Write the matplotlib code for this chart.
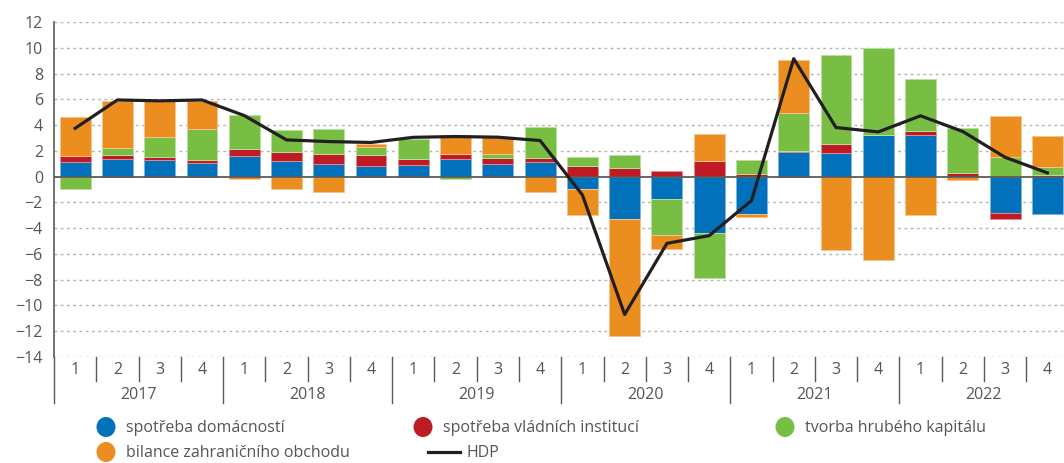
import matplotlib
matplotlib.use("Agg")
import matplotlib.pyplot as plt
import numpy as np
from matplotlib.lines import Line2D
from matplotlib.patches import Ellipse
import matplotlib.transforms as mtransforms

plt.rcParams['font.family'] = ['Open Sans', 'DejaVu Sans']

years = ["2017", "2018", "2019", "2020", "2021", "2022"]
quarters = ["1", "2", "3", "4"]

households = [1.15, 1.40, 1.30, 1.05,
              1.58, 1.25, 1.00, 0.85,
              0.93, 1.35, 1.00, 1.12,
              -0.96, -3.30, -1.73, -4.37,
              -2.90, 1.92, 1.87, 3.26,
              3.21, 0.00, -2.84, -2.90]
government = [0.45, 0.30, 0.25, 0.25,
              0.57, 0.65, 0.78, 0.80,
              0.45, 0.44, 0.47, 0.36,
              0.82, 0.70, 0.44, 1.24,
              0.23, 0.10, 0.69, 0.00,
              0.36, 0.31, -0.46, 0.16]
capital = [-0.98, 0.50, 1.50, 2.38,
           2.65, 1.73, 1.95, 0.67,
           1.55, -0.15, 0.26, 2.40,
           0.71, 0.96, -2.77, -3.48,
           1.07, 2.91, 6.90, 6.69,
           4.04, 3.50, 1.51, 0.57]
trade = [3.00, 3.63, 2.78, 2.15,
         -0.20, -0.93, -1.17, 0.20,
         0.00, 1.42, 1.37, -1.17,
         -2.00, -9.08, -1.10, 2.05,
         -0.20, 4.14, -5.70, -6.50,
         -2.97, -0.30, 3.20, 2.41]
gdp = [3.75, 5.95, 5.88, 5.95,
       4.74, 2.85, 2.72, 2.65,
       3.05, 3.11, 3.06, 2.80,
       -1.42, -10.70, -5.18, -4.58,
       -1.86, 9.15, 3.81, 3.47,
       4.72, 3.50, 1.50, 0.29]

series_names = ["spotřeba domácností", "spotřeba vládních institucí",
                "tvorba hrubého kapitálu", "bilance zahraničního obchodu"]
series_vals = [households, government, capital, trade]
colors = ["#0071BA", "#C01B25", "#77BE43", "#EC8D1F"]
edges = ["#7FB4DC", "#E08A90", "#B9DEA0", "#F6C48E"]
gdp_name = "HDP"

TXT = "#555555"
FS = 11.5

W, H = 1064, 463
fig = plt.figure(figsize=(W / 100, H / 100), dpi=100)
ax_left, ax_right = 54 / W, 1.0
ax_top, ax_bottom = 1 - 22 / H, 1 - 357 / H
ax = fig.add_axes([ax_left, ax_bottom, ax_right - ax_left, ax_top - ax_bottom])

n = len(households)
x = np.arange(n)
pos_base = np.zeros(n)
neg_base = np.zeros(n)
for vals, c, e in zip(series_vals, colors, edges):
    v = np.array(vals)
    pos = np.where(v > 0, v, 0)
    neg = np.where(v < 0, v, 0)
    mp = pos > 0
    mn = neg < 0
    ax.bar(x[mp], pos[mp], 0.73, bottom=pos_base[mp], color=c, edgecolor=e, linewidth=0.7, zorder=2)
    ax.bar(x[mn], neg[mn], 0.73, bottom=neg_base[mn], color=c, edgecolor=e, linewidth=0.7, zorder=2)
    pos_base += pos
    neg_base += neg

ax.plot(x, gdp, color="#231F20", linewidth=2.3, zorder=4)

ax.set_ylim(-14, 12)
step_px = 1014.5 / 24
ax.set_xlim(-0.5, -0.5 + (W - 54) / step_px)
yt = np.arange(-14, 13, 2)
ax.set_yticks(yt)
ax.set_yticklabels([str(v).replace('-', '\u2212') for v in yt])
for v in yt:
    if v == 0:
        ax.axhline(0, color="#5a5a5a", linewidth=1.3, zorder=3)
    else:
        ax.axhline(v, color="#b5b5b5", linewidth=1.0, linestyle=(0, (2, 2.5)), zorder=1)
ax.tick_params(axis='y', length=0, pad=8, labelsize=FS, labelcolor=TXT)
ax.set_xticks([])
for s in ["top", "right", "bottom"]:
    ax.spines[s].set_visible(False)
ax.spines["left"].set_color("#5a5a5a")
ax.spines["left"].set_linewidth(1.2)

# Multi-level category axis
trans = mtransforms.blended_transform_factory(ax.transData, ax.transAxes)
axh = 357 - 22
def fy(py):
    return (357 - py) / axh
for i in range(n):
    ax.text(x[i], fy(370), quarters[i % 4], transform=trans, ha='center', va='center',
            fontsize=FS, color=TXT, clip_on=False)
    if i % 4 != 0:
        ax.add_line(Line2D([i - 0.5, i - 0.5], [0, fy(381)], transform=trans,
                           color="#5a5a5a", linewidth=1.0, clip_on=False))
for j, yr in enumerate(years):
    ax.text(4 * j + 1.5, fy(395), yr, transform=trans, ha='center', va='center',
            fontsize=FS, color=TXT, clip_on=False)
    ax.add_line(Line2D([4 * j - 0.5, 4 * j - 0.5], [0, fy(403)], transform=trans,
                       color="#5a5a5a", linewidth=1.0, clip_on=False))

# Legend (manual)
def fx(px):
    return px / W
def fyy(py):
    return 1 - py / H
legend_items = [(106, 427, 0), (423, 427, 1), (785, 427, 2), (106, 452, 3)]
for cx, cy, k in legend_items:
    fig.add_artist(Ellipse((fx(cx), fyy(cy)), 19 / W, 20 / H, transform=fig.transFigure,
                           facecolor=colors[k], edgecolor='none'))
    fig.text(fx(cx + 20), fyy(cy + 1), series_names[k], ha='left', va='center',
             fontsize=FS, color=TXT)
fig.add_artist(Line2D([fx(428), fx(460)], [fyy(452), fyy(452)], transform=fig.transFigure,
                      color="#231F20", linewidth=2.3))
fig.text(fx(467), fyy(453), gdp_name, ha='left', va='center', fontsize=FS, color=TXT)

fig.savefig("out.png", dpi=100)
